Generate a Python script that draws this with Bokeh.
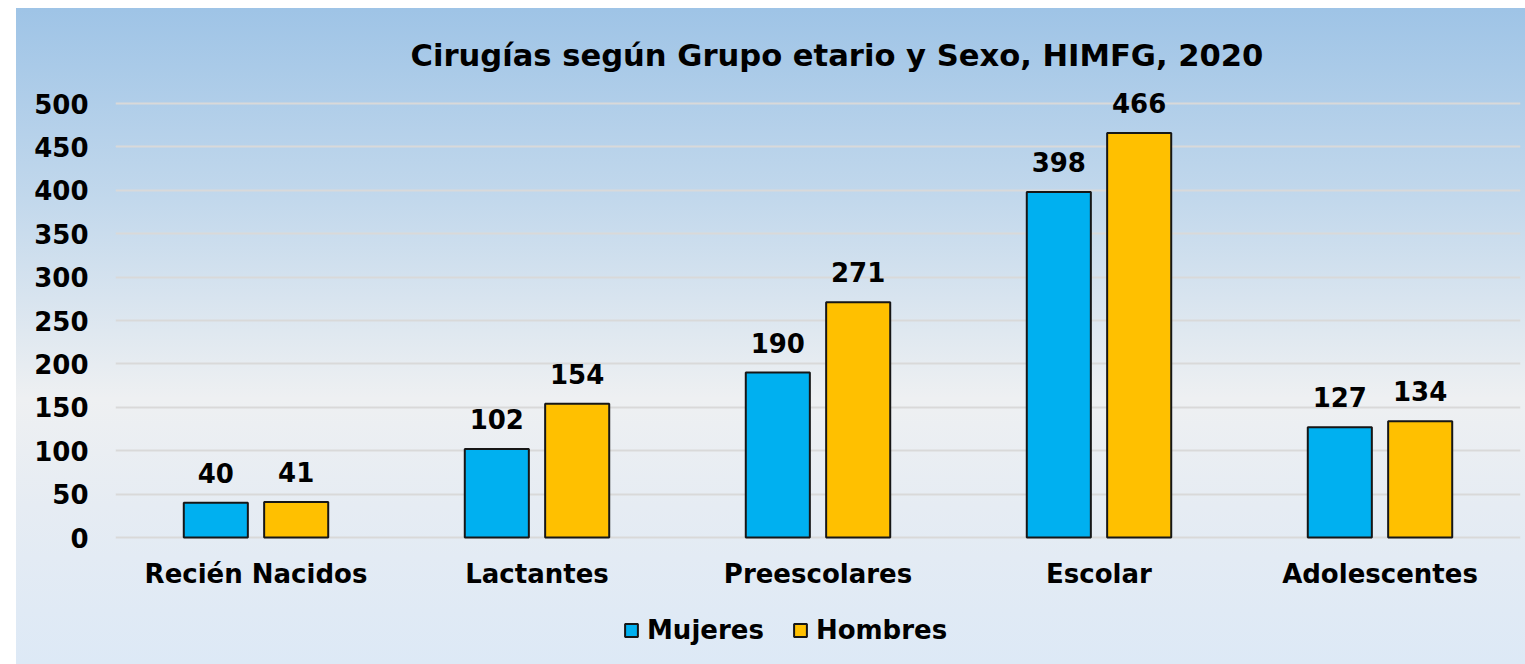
from bokeh.plotting import figure
from bokeh.models import ColumnDataSource, FactorRange, Range1d, LabelSet, Legend, LegendItem, FixedTicker
from bokeh.core.properties import value
from bokeh.transform import dodge
from bokeh.embed import file_html
from bokeh.resources import INLINE

categories = ["Recién Nacidos", "Lactantes", "Preescolares", "Escolar", "Adolescentes"]
mujeres = [40, 102, 190, 398, 127]
hombres = [41, 154, 271, 466, 134]
series_names = ["Mujeres", "Hombres"]
y_ticks = [0, 50, 100, 150, 200, 250, 300, 350, 400, 450, 500]
title_text = "Cirugías según Grupo etario y Sexo, HIMFG, 2020"

FONT = "DejaVu Sans"
BLUE = "#00B0F0"
GOLD = "#FFC000"

src = ColumnDataSource(dict(
    cat=categories, muj=mujeres, hom=hombres, zero=[0] * len(categories),
    muj_t=[str(v) for v in mujeres], hom_t=[str(v) for v in hombres],
))

p = figure(
    x_range=FactorRange(*categories, range_padding=0),
    y_range=Range1d(-141.7, 532.3),
    width=1525, height=664,
    output_backend="svg", toolbar_location=None,
    min_border_left=115, min_border_right=5, min_border_top=75, min_border_bottom=4,
)
p.styles = {
    "background": "linear-gradient(to right, #ffffff 16px, rgba(255,255,255,0) 16px), "
                  "linear-gradient(to bottom, #ffffff 8px, rgba(255,255,255,0) 8px), "
                  "linear-gradient(to bottom, #9DC3E6 0%, #C2D8EC 30%, #EEF0F2 60%, #E6ECF3 76%, #DDE9F6 100%)"
}
p.border_fill_color = None
p.background_fill_color = None
p.outline_line_color = None

p.title.text = title_text
p.title.text_font = FONT
p.title.text_font_size = "30.6px"
p.title.text_font_style = "bold"
p.title.text_color = "black"
p.title.align = "left"
p.title.offset = 295
p.title.standoff = 6

off = 0.143
w = 0.228
r1 = p.vbar(x=dodge("cat", -off, range=p.x_range), top="muj", width=w, source=src,
            fill_color=BLUE, line_color="#161616", line_width=2)
r2 = p.vbar(x=dodge("cat", off, range=p.x_range), top="hom", width=w, source=src,
            fill_color=GOLD, line_color="#161616", line_width=2)

for col, txt, o in (("muj", "muj_t", -off), ("hom", "hom_t", off)):
    ls = LabelSet(x=dodge("cat", o, range=p.x_range), y=col, text=txt, source=src,
                  text_align="center", text_baseline="alphabetic", y_offset=20,
                  text_font=value(FONT), text_font_size=value("26px"),
                  text_font_style=value("bold"), text_color=value("black"))
    p.add_layout(ls)

# category labels under the zero line
cat_labels = LabelSet(x="cat", y="zero", text="cat", source=src,
                      text_align="center", text_baseline="alphabetic", y_offset=-45,
                      text_font=value(FONT), text_font_size=value("26px"),
                      text_font_style=value("bold"), text_color=value("black"))
p.add_layout(cat_labels)

p.xgrid.grid_line_color = None
p.ygrid.grid_line_color = "#D9D9D9"
p.ygrid.grid_line_width = 2
p.yaxis.ticker = FixedTicker(ticks=y_ticks)
p.xaxis.visible = False

p.yaxis.major_tick_line_color = None
p.yaxis.minor_tick_line_color = None
p.yaxis.major_label_text_font = FONT
p.yaxis.major_label_text_font_size = "26px"
p.yaxis.major_label_text_font_style = "bold"
p.yaxis.major_label_text_color = "black"
p.yaxis.axis_line_color = None
p.yaxis.major_label_standoff = 21

legend = Legend(
    items=[LegendItem(label=series_names[0], renderers=[r1]),
           LegendItem(label=series_names[1], renderers=[r2])],
    orientation="horizontal", location=(508, 15),
    glyph_width=16, glyph_height=16, label_standoff=8, spacing=28, padding=2, margin=0,
    label_text_font=FONT, label_text_font_size="26px", label_text_font_style="bold",
    label_text_color="black", background_fill_alpha=0, border_line_color=None,
)
p.add_layout(legend, "center")

open("out.html", "w").write(file_html(p, INLINE))
